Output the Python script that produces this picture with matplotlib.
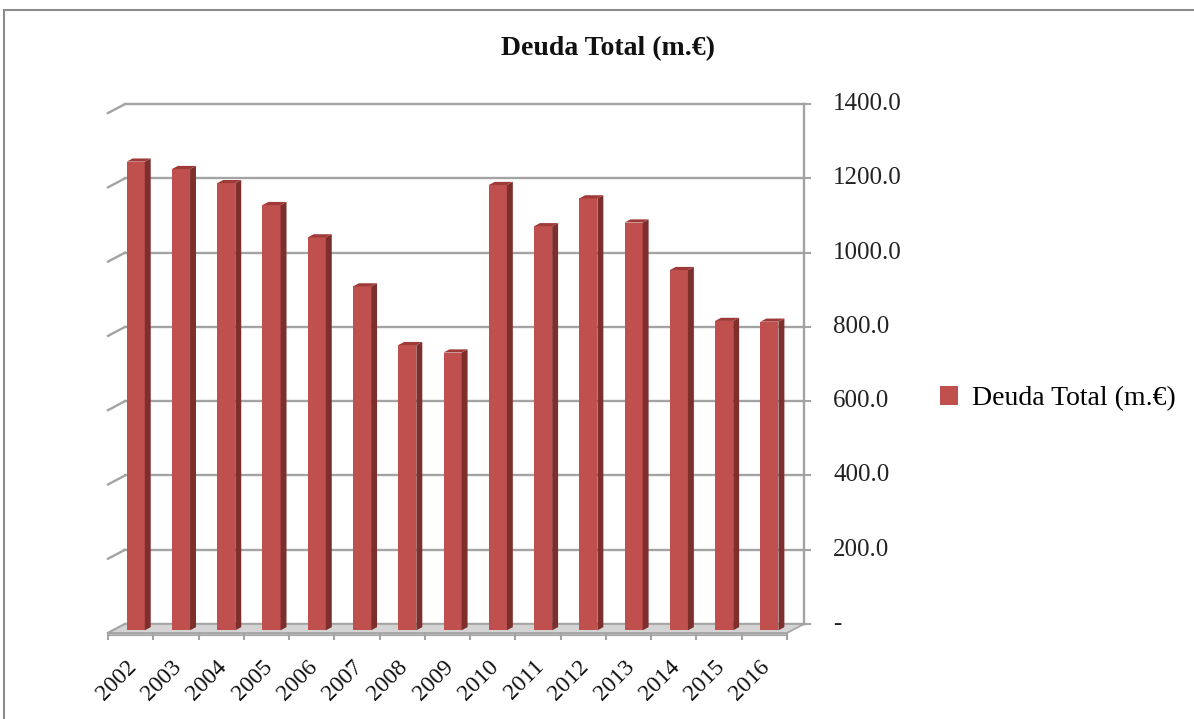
import matplotlib
matplotlib.use("Agg")
import matplotlib.pyplot as plt
from matplotlib.patches import Polygon, Patch, Rectangle

# datos
anios = ["2002", "2003", "2004", "2005", "2006", "2007", "2008", "2009",
         "2010", "2011", "2012", "2013", "2014", "2015", "2016"]
deuda = [1262, 1242, 1204, 1145, 1058, 926, 768, 748,
         1199, 1088, 1163, 1098, 970, 833, 831]
ticks_y = [0, 200, 400, 600, 800, 1000, 1200, 1400]
etiquetas_y = ["-", "200.0", "400.0", "600.0", "800.0", "1000.0", "1200.0", "1400.0"]

serie = "Deuda Total (m.€)"
rojo = "#c0504d"
rojo_lado = "#7d2f2d"
rojo_arriba = "#9e3a37"
gris = "#a3a3a3"

plt.rcParams["font.family"] = ["Liberation Serif", "DejaVu Serif"]

fig = plt.figure(figsize=(11.94, 7.19), dpi=100)
ax = fig.add_axes([100 / 1194, 1 - 640 / 719, 715 / 1194, 545 / 719])
ax.set_xlim(-0.177, 15.62)
ax.set_ylim(-18.8, 1448.6)
ax.axis("off")

n = len(anios)
# desplazamiento de profundidad (pared del fondo)
ddx = 0.375
ddy = 24.2

# pared del fondo: lineas de cuadricula
for v in ticks_y:
    ax.plot([ddx, n + ddx], [v + ddy, v + ddy], color=gris, lw=1.7, zorder=1)
    ax.plot([0, ddx], [v, v + ddy], color=gris, lw=1.7, zorder=1)
    ax.plot([n + ddx, n + ddx + 0.14], [v + ddy, v + ddy], color=gris, lw=1.5, zorder=1)
ax.plot([n + ddx, n + ddx], [ddy, ticks_y[-1] + ddy], color=gris, lw=1.7, zorder=1)

# suelo
suelo = Polygon([(0, 0), (n, 0), (n + ddx, ddy), (ddx, ddy)], closed=True,
                facecolor="#d4d4d4", edgecolor=gris, lw=1.2, zorder=2)
ax.add_patch(suelo)
ax.add_patch(Polygon([(0, 0), (n, 0), (n, -5), (0, -5)], closed=True,
                     facecolor="#bdbdbd", edgecolor=gris, lw=0.8, zorder=2))
for i in range(n + 1):
    ax.plot([i, i], [-5, -24], color=gris, lw=1.5, zorder=2)

# barras en pseudo-3D
d0, d1 = 0.3, 0.65
ancho = 0.4
bx = [i + 0.5 + d0 * ddx for i in range(n)]
base = d0 * ddy
ax.bar(bx, deuda, width=ancho, bottom=base, color=rojo, zorder=3)
px = (d1 - d0) * ddx
py = (d1 - d0) * ddy
for x, v in zip(bx, deuda):
    xl = x - ancho / 2
    xr = x + ancho / 2
    top = base + v
    ax.add_patch(Polygon([(xr, base), (xr + px, base + py), (xr + px, top + py), (xr, top)],
                         closed=True, facecolor=rojo_lado, edgecolor="none", zorder=3))
    ax.add_patch(Polygon([(xl, top), (xr, top), (xr + px, top + py), (xl + px, top + py)],
                         closed=True, facecolor=rojo_arriba, edgecolor="none", zorder=3))

# etiquetas del eje y (derecha)
for v, t in zip(ticks_y, etiquetas_y):
    ax.text(n + ddx + 0.65, v + ddy, t, ha="left", va="center", fontsize=18,
            color="#222222", clip_on=False)

# etiquetas del eje x
for i, a in enumerate(anios):
    ax.text(i + 0.72, -62, a, ha="right", va="top", rotation=45, fontsize=17,
            color="#111111", clip_on=False)

fig.text(0.509, 0.933, serie, ha="center", va="center", fontsize=20,
         fontweight="bold", color="#111111")

fig.legend(handles=[Patch(facecolor=rojo, label=serie)], loc="center left",
           bbox_to_anchor=(940 / 1194, 1 - 399 / 719), frameon=False, fontsize=20,
           handlelength=0.65, handleheight=0.65, handletextpad=0.5,
           borderpad=0, borderaxespad=0)

# marco exterior
fig.patches.append(Rectangle((4 / 1194, -0.05), 1.2, 1 - 10 / 719 + 0.05,
                             transform=fig.transFigure, fill=False,
                             edgecolor="#8c8c8c", lw=1.5))

fig.savefig("out.png", dpi=100)
